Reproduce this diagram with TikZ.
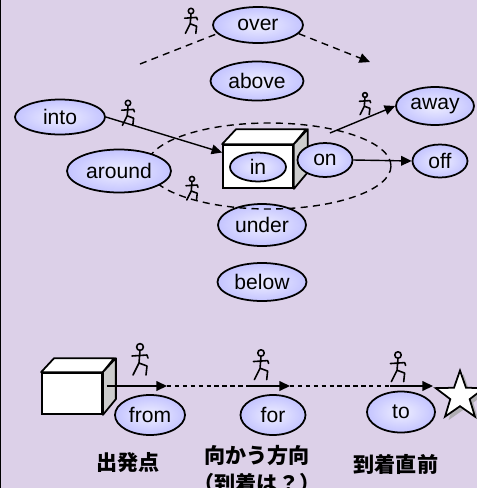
\documentclass[tikz,border=0pt]{standalone}
\usepackage{fontspec}
\setmainfont{Liberation Sans}
\newfontfamily\jpfont{Noto Sans CJK JP}
\usepackage{tikz}
\usetikzlibrary{shapes.geometric, arrows.meta, calc, shadows, positioning}
\definecolor{bgcol}{RGB}{220,208,232}
\definecolor{wordin}{RGB}{238,238,255}
\definecolor{wordout}{RGB}{196,196,255}
\tikzstyle{arrow}     = [thick,->,>={Triangle[length=6pt,width=5.5pt]}]
\tikzstyle{dasharrow} = [thick,->,>={Triangle[length=6pt,width=5.5pt]}, dash pattern=on 4pt off 3pt]
\tikzstyle{dotline}   = [semithick, dash pattern=on 2.5pt off 2pt]
\tikzstyle{word}      = [ellipse, draw, line width=1pt, inner color=wordin, outer color=wordout, inner sep=0pt, font=\fontsize{12}{14}\selectfont]
\tikzstyle{cube}      = [draw, line width=1pt, fill=white, inner sep=0pt]
\tikzstyle{jplabel}   = [align=center, font=\jpfont\bfseries\fontsize{12}{15.4}\selectfont]
\tikzset{
  runner/.pic={
    \draw[line width=0.9pt, line cap=round, line join=round]
      (0,0) circle[radius=3.4]
      (0,3.4) -- (-1,16)
      (-8,9) -- (7,8) -- (8,11)
      (-1,16) -- (-7,28)
      (-1,16) -- (7,19) -- (6,28);
  }
}

\begin{document}
\begin{tikzpicture}[x=0.02cm, y=-0.02cm]

% background
\useasboundingbox (0,0) rectangle (477,488);
\fill[bgcol] (0,0) rectangle (477,488);
\draw[line width=1.2pt] (0,0) -- (0,488);

% upper part
\node[word, minimum width=1.8cm, minimum height=0.72cm] (over) at (258,25) {over};
\node[word, minimum width=1.86cm, minimum height=0.78cm] (above) at (257,81) {above};
\node[word, minimum width=1.8cm, minimum height=0.7cm] (into) at (60,117) {into};
\node[word, minimum width=1.56cm, minimum height=0.76cm] (away) at (435,106) {away};
\node[word, minimum width=1.76cm, minimum height=0.84cm] (under) at (262,225) {under};
\node[word, minimum width=1.78cm, minimum height=0.76cm] (below) at (262,282) {below};

% dashed ring
\draw[thick, dash pattern=on 4pt off 3pt] (269,166) ellipse [x radius=122, y radius=43];

\node[word, minimum width=2.08cm, minimum height=0.86cm] (around) at (119,171) {around};

% box with in
\node[cube, minimum width=1.4cm, minimum height=0.86cm] (box) at (258,166.5) {};
\draw[line width=1pt, fill=white, line join=round] (box.north west) -- ++(14,-15) -- ++(70,0) -- (box.north east) -- cycle;
\draw[line width=1pt, fill=gray!40, line join=round] (box.north east) -- ++(14,-15) -- ++(0,43) -- (box.south east) -- cycle;
\node[word, minimum width=1.12cm, minimum height=0.58cm] (in) at (258,167) {in};
\node[word, minimum width=1.1cm, minimum height=0.68cm] (on) at (325,160) {on};
\node[word, minimum width=1.1cm, minimum height=0.66cm] (off) at (440,161) {off};

\coordinate (overstart) at (140,64);
\coordinate (overend) at (370,62);
\coordinate (awaystart) at (330,133);

\draw[dasharrow, -] (overstart) -- (over.192);
\draw[dasharrow] (over.-12) -- (overend);
\draw[arrow] (into.east) -- ($(box.west)+(0,-14)$);
\draw[arrow] (awaystart) -- (away.west);
\draw[arrow] (on.east) -- (off.west);

\pic[scale=0.8] at (191,11) {runner};
\pic[scale=0.8] at (128,103) {runner};
\pic[scale=0.7] at (365,95) {runner};
\pic[scale=0.75] at (192,179) {runner};

% lower part
\node[cube, minimum width=1.2cm, minimum height=0.82cm] (box2) at (72,393.5) {};
\draw[line width=1pt, fill=white, line join=round] (box2.north west) -- ++(13,-14) -- ++(60,0) -- (box2.north east) -- cycle;
\draw[line width=1pt, fill=gray!40, line join=round] (box2.north east) -- ++(13,-14) -- ++(0,41) -- (box2.south east) -- cycle;

\node[star, star points=5, star point ratio=2.5, draw, line width=1pt, fill=white,
      drop shadow={shadow xshift=2pt, shadow yshift=-2pt, fill=gray!70, opacity=0.8},
      minimum size=1.02cm, inner sep=0pt] (goal) at (460,396) {};

\coordinate (start) at (107,386);
\coordinate (a1) at (167,386);
\coordinate (b0) at (250,386);
\coordinate (b1) at (290,386);
\coordinate (c0) at (390,386);
\coordinate (c1) at (433,386);

\draw[arrow] (start) -- (a1);
\draw[dotline] (a1) -- (b0);
\draw[arrow] (b0) -- (b1);
\draw[dotline] (b1) -- (c0);
\draw[arrow] (c0) -- (c1);

\pic at (140,347) {runner};
\pic[scale=0.95] at (261,353) {runner};
\pic[scale=0.95] at (398,355) {runner};

\node[word, minimum width=1.4cm, minimum height=0.8cm] (from) at (150,415) {from};
\node[word, minimum width=1.3cm, minimum height=0.8cm] (for) at (273,415) {for};
\node[word, minimum width=1.36cm, minimum height=0.82cm] (to) at (401,412) {to};

\node[jplabel] (fromtxt) at (128,463) {出発点};
\node[jplabel] (fortxt) at (257,469.5) {向かう方向\\（到着は？）};
\node[jplabel] (totxt) at (396,464) {到着直前};

\end{tikzpicture}
\end{document}
